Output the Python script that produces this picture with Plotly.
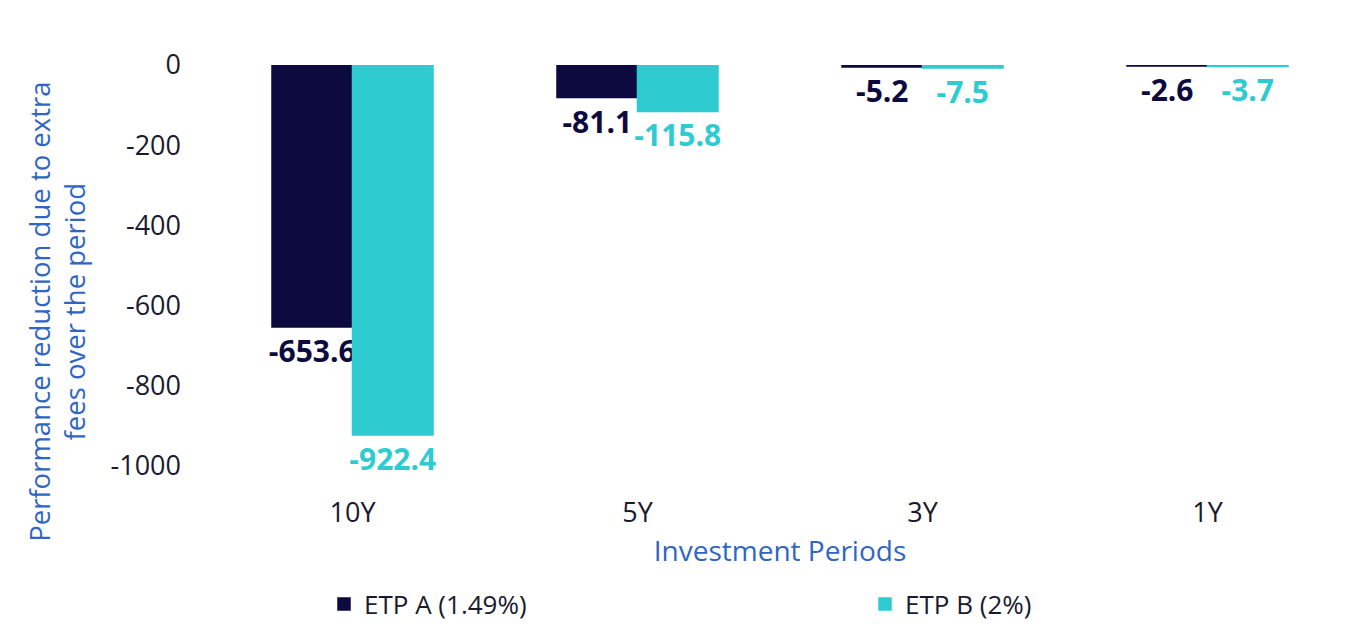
import plotly.graph_objects as go

categories = ["10Y", "5Y", "3Y", "1Y"]
etp_a = [-653.6, -81.1, -5.2, -2.6]
etp_b = [-922.4, -115.8, -7.5, -3.7]
series_names = ["ETP A (1.49%)", "ETP B (2%)"]
y_ticks = [0, -200, -400, -600, -800, -1000]
y_ticktext = ["0", "-200", "-400", "-600", "-800", "-1000"]
y_title = "Performance reduction due to extra<br>fees over the period"
x_title = "Investment Periods"

dark = "#0c0a3e"
teal = "#2ecbd1"
blue = "#2f66c4"
font = "Open Sans"

fig = go.Figure()
fig.add_trace(go.Bar(
    x=categories, y=etp_a, name=series_names[0],
    marker=dict(color=dark, line=dict(color=dark, width=1.5)),
    text=[f"{v:.1f}" for v in etp_a], textposition="outside",
    textfont=dict(color=dark, size=30, family=font, weight="bold"),
    cliponaxis=False, constraintext="none",
))
fig.add_trace(go.Bar(
    x=categories, y=etp_b, name=series_names[1],
    marker=dict(color=teal, line=dict(color=teal, width=1.5)),
    text=[f"{v:.1f}" for v in etp_b], textposition="outside",
    textfont=dict(color=teal, size=30, family=font, weight="bold"),
    cliponaxis=False, constraintext="none",
))

fig.update_layout(
    width=1364, height=624,
    margin=dict(l=210, r=14, t=65, b=158, autoexpand=False),
    paper_bgcolor="white", plot_bgcolor="white",
    barmode="group", bargap=0.435, bargroupgap=0,
    font=dict(family=font, size=26, color="#1a1a2e"),
    xaxis=dict(
        showgrid=False, showline=False, zeroline=False,
        ticks="", ticklabelstandoff=28,
        tickfont=dict(size=27, color="#1a1a2e"),
        title=dict(text=x_title, font=dict(size=28, color=blue), standoff=12),
    ),
    yaxis=dict(
        range=[-1000, 0], tickvals=y_ticks, ticktext=y_ticktext,
        showgrid=False, showline=False, zeroline=False,
        ticks="", ticklabelstandoff=28,
        tickfont=dict(size=27, color="#1a1a2e"),
    ),
    annotations=[dict(
        text=y_title, textangle=-90, showarrow=False,
        xref="paper", yref="paper", x=-0.134, y=0.385,
        xanchor="center", yanchor="middle",
        font=dict(size=27.5, color=blue, family=font),
    )],
    legend=dict(
        orientation="h", x=0.1, xanchor="left", y=-0.286, yanchor="top",
        entrywidth=496, entrywidthmode="pixels",
        font=dict(size=26, color="#1a1a2e"),
    ),
    showlegend=True,
)

fig.write_html("out.html")
